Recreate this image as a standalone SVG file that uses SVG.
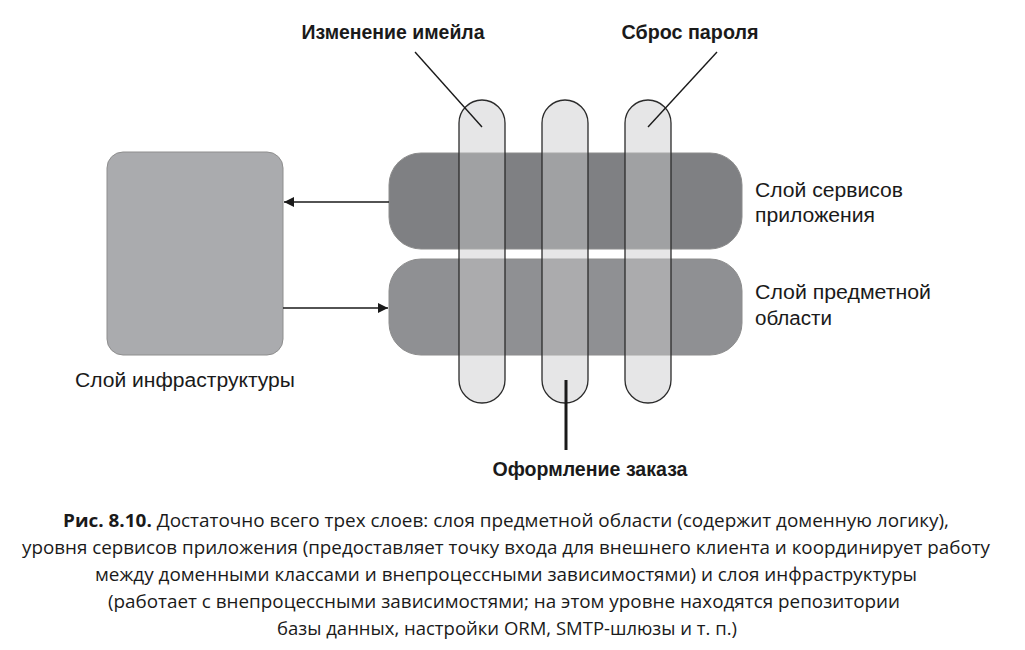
<svg xmlns="http://www.w3.org/2000/svg" width="1025" height="650" viewBox="0 0 1025 650">
<style>
.pill-bg{fill:#e6e6e7;stroke:none}
.pill{fill:#e6e6e7;fill-opacity:0.32;stroke:#2b2b2b;stroke-width:1.3}
.layer{stroke:#8c8c8c;stroke-width:1}
.lbl{font-family:"Liberation Sans",Arial,sans-serif;font-size:20px;fill:#1a1a1a}
.head{font-family:"Liberation Sans",Arial,sans-serif;font-size:20px;font-weight:bold;fill:#1a1a1a}
.cap{font-family:"Open Sans","Liberation Sans",sans-serif;font-size:18px;fill:#1a1a1a}
.conn{stroke:#1a1a1a;stroke-width:1.4;fill:none}
</style>
<defs>
<marker id="arr" viewBox="0 0 10 10" refX="10" refY="5" markerWidth="10" markerHeight="10" markerUnits="userSpaceOnUse" orient="auto">
<path d="M0,0 L10,5 L0,10 z" fill="#1a1a1a"/>
</marker>
</defs>
<rect width="1025" height="650" fill="#ffffff"/>

<g id="pill-backgrounds">
<rect class="pill-bg" x="459" y="100" width="46" height="303" rx="23"/>
<rect class="pill-bg" x="542" y="100" width="46" height="303" rx="23"/>
<rect class="pill-bg" x="625" y="100" width="46" height="303" rx="23"/>
</g>

<g id="infra">
<rect x="107" y="152" width="176" height="203" rx="16" fill="#aaabae" stroke="#8e8e8e" stroke-width="1"/>
<text class="lbl" x="75" y="387" textLength="220" lengthAdjust="spacingAndGlyphs">Слой инфраструктуры</text>
</g>

<g id="service-layer">
<rect class="layer" x="389" y="153" width="353" height="96" rx="32" fill="#7f8083"/>
<text class="lbl" x="755" y="197" textLength="148" lengthAdjust="spacingAndGlyphs">Слой сервисов</text>
<text class="lbl" x="755" y="222" textLength="120" lengthAdjust="spacingAndGlyphs">приложения</text>
</g>

<g id="domain-layer">
<rect class="layer" x="389" y="259" width="353" height="96" rx="32" fill="#8f9093"/>
<text class="lbl" x="755" y="299" textLength="176" lengthAdjust="spacingAndGlyphs">Слой предметной</text>
<text class="lbl" x="755" y="325" textLength="77" lengthAdjust="spacingAndGlyphs">области</text>
</g>

<g id="email-change">
<rect class="pill" x="459" y="100" width="46" height="303" rx="23"/>
<text class="head" x="393" y="39" text-anchor="middle" textLength="183" lengthAdjust="spacingAndGlyphs">Изменение имейла</text>
</g>
<g id="order">
<rect class="pill" x="542" y="100" width="46" height="303" rx="23"/>
<text class="head" x="590" y="476" text-anchor="middle" textLength="195" lengthAdjust="spacingAndGlyphs">Оформление заказа</text>
</g>
<g id="password-reset">
<rect class="pill" x="625" y="100" width="46" height="303" rx="23"/>
<text class="head" x="690" y="39" text-anchor="middle" textLength="137" lengthAdjust="spacingAndGlyphs">Сброс пароля</text>
</g>

<g id="connectors">
<line class="conn" x1="389" y1="202" x2="284" y2="202" marker-end="url(#arr)"/>
<line class="conn" x1="283" y1="308" x2="388" y2="308" marker-end="url(#arr)"/>
<line class="conn" x1="415" y1="52" x2="482" y2="127"/>
<line class="conn" x1="717" y1="52" x2="648" y2="127"/>
<line x1="566" y1="380" x2="566" y2="450" stroke="#1a1a1a" stroke-width="3"/>
</g>

<g id="caption">
<text class="cap" x="506" y="527" text-anchor="middle" textLength="886" lengthAdjust="spacingAndGlyphs"><tspan font-weight="bold">Рис. 8.10.</tspan> Достаточно всего трех слоев: слоя предметной области (содержит доменную логику),</text>
<text class="cap" x="506" y="554" text-anchor="middle" textLength="968" lengthAdjust="spacingAndGlyphs">уровня сервисов приложения (предоставляет точку входа для внешнего клиента и координирует работу</text>
<text class="cap" x="506" y="581" text-anchor="middle" textLength="822" lengthAdjust="spacingAndGlyphs">между доменными классами и внепроцессными зависимостями) и слоя инфраструктуры</text>
<text class="cap" x="504" y="608" text-anchor="middle" textLength="792" lengthAdjust="spacingAndGlyphs">(работает с внепроцессными зависимостями; на этом уровне находятся репозитории</text>
<text class="cap" x="507" y="635" text-anchor="middle" textLength="460" lengthAdjust="spacingAndGlyphs">базы данных, настройки ORM, SMTP-шлюзы и т. п.)</text>
</g>
</svg>
